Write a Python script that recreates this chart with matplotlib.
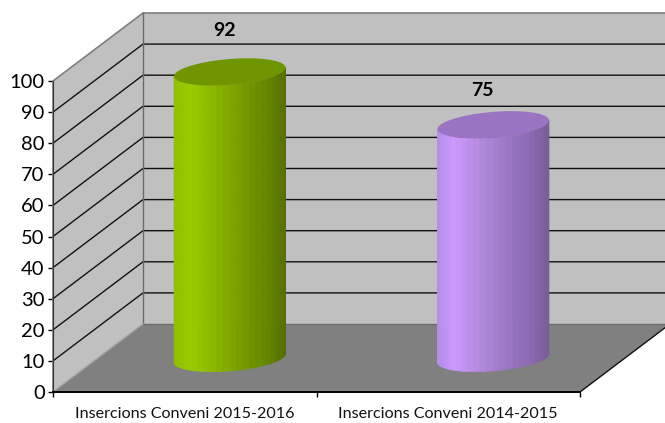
import numpy as np
import matplotlib
matplotlib.use("Agg")
import matplotlib.pyplot as plt
from matplotlib.colors import LinearSegmentedColormap
from matplotlib.patches import Polygon

categories = ["Insercions Conveni 2015-2016", "Insercions Conveni 2014-2015"]
values = [92, 75]
y_ticks = list(range(0, 101, 10))

W, H = 665, 423
AX_L, AX_R, AX_B, AX_T = 53, 580, 392, 81
DEPTH_PX_X, DEPTH_PX_Y = 90, 68

plt.rcParams["font.family"] = ["Lato", "DejaVu Sans"]
fig = plt.figure(figsize=(W / 100, H / 100), dpi=100)
ax = fig.add_axes([AX_L / W, 1 - AX_B / H, (AX_R - AX_L) / W, (AX_B - AX_T) / H])
ax.set_xlim(0, len(categories))
ax.set_ylim(0, 100)
ax.patch.set_visible(False)

dx_unit = DEPTH_PX_X * len(categories) / (AX_R - AX_L)
dy_unit = DEPTH_PX_Y * 100 / (AX_B - AX_T)
n = len(categories)


def pr(x, y, d):
    return x + d * dx_unit, y + d * dy_unit


def poly(points, fc, ec="none", lw=0, z=1):
    ax.add_patch(Polygon(points, closed=True, fc=fc, ec=ec, lw=lw, zorder=z, clip_on=False))


WALL, FLOOR, EDGE = "#C0C0C0", "#808080", "#7F7F7F"
poly([pr(0, 0, 1), pr(n, 0, 1), pr(n, 100, 1), pr(0, 100, 1)], WALL)
poly([pr(0, 0, 0), pr(0, 0, 1), pr(0, 100, 1), pr(0, 100, 0)], WALL)
poly([pr(0, 0, 0), pr(n, 0, 0), pr(n, 0, 1), pr(0, 0, 1)], FLOOR)

for t in y_ticks[1:-1]:
    a, b, c = pr(0, t, 0), pr(0, t, 1), pr(n, t, 1)
    ax.plot([a[0], b[0], c[0]], [a[1], b[1], c[1]], color="#111111", lw=1.0, zorder=2,
            clip_on=False, solid_joinstyle="miter")

outline = [pr(0, 0, 0), pr(0, 100, 0), pr(0, 100, 1), pr(n, 100, 1)]
ax.plot(*zip(*outline), color=EDGE, lw=1.2, zorder=2, clip_on=False)
back_v = [pr(0, 100, 1), pr(0, 0, 1), pr(n, 0, 1)]
ax.plot(*zip(*back_v), color="#6A6A6A", lw=1.0, zorder=2, clip_on=False)
diag = [pr(0, 0, 0), pr(0, 0, 1)]
ax.plot(*zip(*diag), color="#A0A0A0", lw=1.0, zorder=2, clip_on=False)
right = [pr(n, 0, 0), pr(n, 0, 1)]
ax.plot(*zip(*right), color="#111111", lw=1.0, zorder=2, clip_on=False)

cmaps = [
    LinearSegmentedColormap.from_list("g", [(0, "#8FBF00"), (0.15, "#99CC00"), (0.5, "#7FA800"),
                                            (0.85, "#648500"), (1, "#566F00")]),
    LinearSegmentedColormap.from_list("p", [(0, "#B48DE8"), (0.15, "#CC99FF"), (0.5, "#A880D0"),
                                            (0.85, "#8A68B0"), (1, "#7A5C99")]),
]
top_colors = ["#6F9600", "#9A73C2"]
label_offsets = [(-5, 41), (-11, 34)]

half_w, half_d = 0.2, 0.2
depth_mid = 0.5
s = half_d * dx_unit
t0 = np.arctan2(s, half_w)
ts = np.linspace(t0 - np.pi, t0, 27)


def ring(cx, y, t):
    return pr(cx + half_w * np.cos(t), y, depth_mid + half_d * np.sin(t))


for i, v in enumerate(values):
    cx = i + 0.5
    left = ring(cx, 0, ts[0])[0]
    right_x = ring(cx, 0, ts[-1])[0]
    for a, b in zip(ts[:-1], ts[1:]):
        seg = np.linspace(a, b, 4)
        low = [ring(cx, 0, q) for q in seg]
        high = [ring(cx, v, q) for q in seg[::-1]]
        u = (0.5 * (low[0][0] + low[-1][0]) - left) / (right_x - left)
        col = cmaps[i](u)
        poly(low + high, col, ec=col, lw=0.5, z=3)
    tt = np.linspace(0, 2 * np.pi, 120)
    top = [ring(cx, v, q) for q in tt]
    poly(top, top_colors[i], z=4)
    ax.annotate(str(v), xy=pr(cx, v, depth_mid), xytext=label_offsets[i], textcoords="offset pixels",
                ha="center", va="center", fontsize=14, fontweight="bold", color="black",
                annotation_clip=False, zorder=5)

for side in ("top", "right"):
    ax.spines[side].set_visible(False)
ax.spines["left"].set_color("#333333")
ax.spines["bottom"].set_color("black")
ax.spines["bottom"].set_linewidth(1.4)
ax.spines["left"].set_zorder(6)
ax.spines["bottom"].set_zorder(6)

ax.set_yticks(y_ticks)
ax.tick_params(axis="y", length=3.5, width=1, labelsize=14.5, pad=2.5, colors="black")
ax.set_xticks(range(n + 1))
ax.set_xticklabels([])
ax.set_xticks(np.arange(n) + 0.5, minor=True)
ax.set_xticklabels(categories, minor=True)
ax.tick_params(axis="x", which="major", length=3.5, width=1)
ax.tick_params(axis="x", which="minor", length=0, labelsize=11.6, pad=11, colors="#111111")

fig.savefig("out.png", dpi=100, facecolor="white")
